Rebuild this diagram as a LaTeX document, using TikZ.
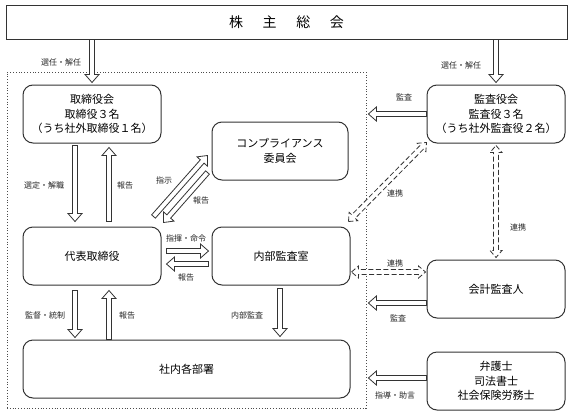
\documentclass[tikz,border=0pt]{standalone}
\usepackage{fontspec}
\setmainfont{Noto Sans CJK JP}
\usetikzlibrary{calc,positioning}
\tikzset{
  box/.style={draw=black!80,line width=1pt,rounded corners=10pt,align=center,font=\fontsize{11}{14.5}\selectfont,inner sep=0pt},
  lbl/.style={font=\fontsize{8}{9}\selectfont,inner sep=1pt,text=black!85},
  arr/.style={draw=black!80,line width=0.8pt,fill=white},
  dsh/.style={arr,dash pattern=on 5pt off 2.5pt},
}
% hollow block arrow: from #2 to #3
\newcommand{\hollowarrow}[3][]{%
  \coordinate (hh) at ($(#3)!8pt!(#2)$);
  \draw[arr,#1] ($(#2)!2.5pt!90:(#3)$) -- ($(hh)!2.5pt!90:(#3)$) -- ($(hh)!7pt!90:(#3)$) -- (#3)
    -- ($(hh)!7pt!-90:(#3)$) -- ($(hh)!2.5pt!-90:(#3)$) -- ($(#2)!2.5pt!-90:(#3)$) -- cycle;
}
% hollow double-headed arrow
\newcommand{\hollowdbl}[3][]{%
  \coordinate (ha) at ($(#2)!7pt!(#3)$);
  \coordinate (hb) at ($(#3)!7pt!(#2)$);
  \draw[dsh,#1] (#2) -- ($(ha)!6pt!90:(#3)$) -- ($(ha)!2.5pt!90:(#3)$) -- ($(hb)!2.5pt!-90:(#2)$)
    -- ($(hb)!6pt!-90:(#2)$) -- (#3) -- ($(hb)!6pt!90:(#2)$) -- ($(hb)!2.5pt!90:(#2)$)
    -- ($(ha)!2.5pt!-90:(#3)$) -- ($(ha)!6pt!-90:(#3)$) -- cycle;
}
\begin{document}
\begin{tikzpicture}[x=1pt,y=-1pt]
\useasboundingbox[fill=white] (0,0) rectangle (572,415);

\node[draw=black!80,line width=1pt,minimum width=561pt,minimum height=34pt,font=\fontsize{14}{16}\selectfont] (soukai) at (286.5,22) {株\hspace{1.4em}主\hspace{1.4em}総\hspace{1.4em}会};
\node[draw=black!70,dotted,line width=0.8pt,minimum width=359pt,minimum height=336pt] (frame) at (186.5,240) {};

\node[box,minimum width=138pt,minimum height=58pt] (torishimari) at (92,114) {取締役会\\取締役３名\\（うち社外取締役１名）};
\node[box,minimum width=138pt,minimum height=58pt] (kansayaku) at (496,114) {監査役会\\監査役３名\\（うち社外監査役２名）};
\node[box,minimum width=136pt,minimum height=58pt] (comp) at (280,151) {コンプライアンス\\委員会};
\node[box,minimum width=138pt,minimum height=58pt] (daihyo) at (92,256) {代表取締役};
\node[box,minimum width=138pt,minimum height=58pt] (naibu) at (281,256) {内部監査室};
\node[box,minimum width=138pt,minimum height=58pt] (kaikei) at (496,289) {会計監査人};
\node[box,minimum width=327pt,minimum height=58pt] (shanai) at (186.5,369) {社内各部署};
\node[box,minimum width=138pt,minimum height=58pt] (bengoshi) at (496,381) {弁護士\\司法書士\\社会保険労務士};

% 選任・解任
\coordinate (s1) at (soukai.south -| torishimari.north);
\coordinate (t1) at ($(torishimari.north)+(0,-2)$);
\hollowarrow{s1}{t1}
\coordinate (s2) at (soukai.south -| kansayaku.north);
\coordinate (t2) at ($(kansayaku.north)+(0,-2)$);
\hollowarrow{s2}{t2}

% 取締役会 <-> 代表取締役
\coordinate (s3) at ($(torishimari.south)+(-17,2)$);
\coordinate (t3) at ($(daihyo.north)+(-17,-5)$);
\hollowarrow{s3}{t3}
\coordinate (s4) at ($(daihyo.north)+(17,-5)$);
\coordinate (t4) at ($(torishimari.south)+(17,4)$);
\hollowarrow{s4}{t4}

% 代表取締役 <-> コンプライアンス委員会
\coordinate (s5) at ($(daihyo.north east)+(-8,-10)$);
\coordinate (t5) at ($(comp.south west)+(-4,-25)$);
\hollowarrow{s5}{t5}
\coordinate (s6) at ($(comp.south west)+(-4,-8)$);
\coordinate (t6) at ($(daihyo.north east)+(2,-4)$);
\hollowarrow{s6}{t6}

% 代表取締役 <-> 内部監査室
\coordinate (s7) at ($(daihyo.east)+(5,-5)$);
\coordinate (t7) at ($(naibu.west)+(-3,-5)$);
\hollowarrow{s7}{t7}
\coordinate (s8) at ($(naibu.west)+(-3,8)$);
\coordinate (t8) at ($(daihyo.east)+(5,8)$);
\hollowarrow{s8}{t8}

% 社内各部署
\coordinate (s9) at ($(daihyo.south)+(-17,5)$);
\coordinate (t9) at ($(shanai.north -| s9)+(0,-2)$);
\hollowarrow{s9}{t9}
\coordinate (s10) at (shanai.north -| t4);
\coordinate (t10) at ($(daihyo.south)+(17,5)$);
\hollowarrow{s10}{t10}
\coordinate (s11) at ($(naibu.south)+(-1,3)$);
\coordinate (t11) at ($(shanai.north -| s11)+(0,-3)$);
\hollowarrow{s11}{t11}

% 外部から
\coordinate (s12) at (kansayaku.west);
\coordinate (t12) at ($(frame.east |- kansayaku.west)+(2,0)$);
\hollowarrow{s12}{t12}
\coordinate (s13) at ($(kaikei.west)+(0,14)$);
\coordinate (t13) at ($(frame.east |- s13)+(2,0)$);
\hollowarrow{s13}{t13}
\coordinate (s14) at ($(bengoshi.west)+(0,-3)$);
\coordinate (t14) at ($(frame.east |- s14)+(2,0)$);
\hollowarrow{s14}{t14}

% 連携
\coordinate (d1) at ($(naibu.north east)+(-2,-5)$);
\coordinate (d2) at ($(kansayaku.south west)+(0,-1)$);
\hollowdbl{d1}{d2}
\coordinate (d3) at ($(kansayaku.south)+(0,2)$);
\coordinate (d4) at ($(kaikei.north)+(0,-2)$);
\hollowdbl{d3}{d4}
\coordinate (d5) at ($(naibu.east)+(1,16)$);
\coordinate (d6) at ($(kaikei.west |- d5)+(-1,0)$);
\hollowdbl{d5}{d6}

\node[lbl] (l1) at (61,62) {選任・解任};
\node[lbl] (l2) at (461,65) {選任・解任};
\node[lbl] (l3) at (404,97) {監査};
\node[lbl] (l4) at (44,185) {選定・解職};
\node[lbl] (l5) at (125,185) {報告};
\node[lbl] (l6) at (164,180) {指示};
\node[lbl] (l7) at (201,200) {報告};
\node[lbl] (l8) at (395,193) {連携};
\node[lbl] (l9) at (518,227) {連携};
\node[lbl] (l10) at (186,238) {指揮・命令};
\node[lbl] (l11) at (186,277) {報告};
\node[lbl] (l12) at (395,263) {連携};
\node[lbl] (l13) at (45,315) {監督・統制};
\node[lbl] (l14) at (127,315) {報告};
\node[lbl] (l15) at (247,315) {内部監査};
\node[lbl] (l16) at (398,318) {監査};
\node[lbl] (l17) at (395,395) {指導・助言};
\end{tikzpicture}
\end{document}
